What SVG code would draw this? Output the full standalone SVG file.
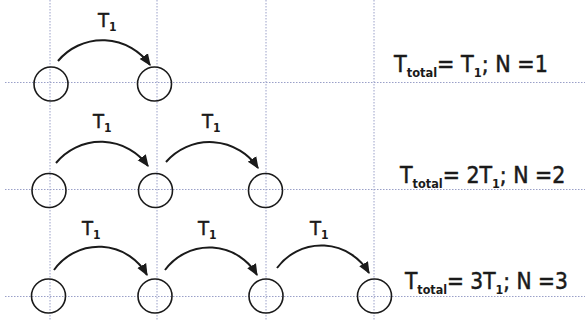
<svg xmlns="http://www.w3.org/2000/svg" width="585" height="320" viewBox="0 0 585 320">
<defs>
<style>
.grid{stroke:#9aa0c8;stroke-width:1;stroke-dasharray:1.5,1.5;fill:none}
.node{fill:none;stroke:#1a1a1a;stroke-width:1.6}
.arc{fill:none;stroke:#1a1a1a;stroke-width:2;marker-end:url(#ah)}
.lbl{font-family:"Liberation Sans Narrow","DejaVu Sans Condensed","Liberation Sans",sans-serif;fill:#1a1a1a;stroke:#1a1a1a;stroke-width:0.5}
.t1{font-size:20px}
.sub{font-size:12px;font-weight:bold;stroke-width:0}
.eq{font-size:23.5px}
.esub{font-size:13px;font-weight:bold;stroke-width:0}
</style>
<marker id="ah" viewBox="0 0 10 10" refX="9" refY="5" markerWidth="6" markerHeight="6" orient="auto" markerUnits="strokeWidth">
<path d="M0,0.8 L10,5 L0,9.2 z" fill="#1a1a1a"/>
</marker>
</defs>
<rect width="585" height="320" fill="#fff"/>
<g id="grid">
<line class="grid" x1="50" y1="0" x2="50" y2="320"/>
<line class="grid" x1="157" y1="0" x2="157" y2="320"/>
<line class="grid" x1="266" y1="0" x2="266" y2="320"/>
<line class="grid" x1="374" y1="0" x2="374" y2="320"/>
<line class="grid" x1="5" y1="82.5" x2="585" y2="82.5"/>
<line class="grid" x1="5" y1="189.5" x2="585" y2="189.5"/>
<line class="grid" x1="5" y1="296.5" x2="585" y2="296.5"/>
</g>
<g id="connectors">
<path class="arc" d="M58,61 A58,58 0 0 1 150,65"/>
<path class="arc" d="M56,163 A58,58 0 0 1 148,166"/>
<path class="arc" d="M166,162 A58,58 0 0 1 258,168"/>
<path class="arc" d="M54,270 A55,55 0 0 1 147,275"/>
<path class="arc" d="M165,270 A55,55 0 0 1 257,275"/>
<path class="arc" d="M277,268 A55,55 0 0 1 369,273"/>
</g>
<g id="n1a"><circle class="node" cx="51" cy="84" r="17"/></g>
<g id="n1b"><circle class="node" cx="154.5" cy="84" r="17"/></g>
<g id="n2a"><circle class="node" cx="49" cy="190.5" r="17"/></g>
<g id="n2b"><circle class="node" cx="155.5" cy="190.5" r="17"/></g>
<g id="n2c"><circle class="node" cx="265.5" cy="190.5" r="17"/></g>
<g id="n3a"><circle class="node" cx="48.5" cy="296" r="17"/></g>
<g id="n3b"><circle class="node" cx="155" cy="296" r="17"/></g>
<g id="n3c"><circle class="node" cx="266" cy="296" r="17"/></g>
<g id="n3d"><circle class="node" cx="374.5" cy="296" r="17"/></g>
<g id="labels">
<text class="lbl t1" x="98" y="27">T<tspan class="sub" dy="4">1</tspan></text>
<text class="lbl t1" x="93" y="128">T<tspan class="sub" dy="4">1</tspan></text>
<text class="lbl t1" x="202" y="128">T<tspan class="sub" dy="4">1</tspan></text>
<text class="lbl t1" x="82" y="235">T<tspan class="sub" dy="4">1</tspan></text>
<text class="lbl t1" x="198" y="235">T<tspan class="sub" dy="4">1</tspan></text>
<text class="lbl t1" x="310" y="235">T<tspan class="sub" dy="4">1</tspan></text>
</g>
<g id="eq1"><text class="lbl eq" transform="translate(394,72) scale(0.98,1)">T<tspan class="esub" dy="5">total</tspan><tspan dy="-5">= T</tspan><tspan class="esub" dy="5">1</tspan><tspan dy="-5">; N =1</tspan></text></g>
<g id="eq2"><text class="lbl eq" transform="translate(400,182.5) scale(0.97,1)">T<tspan class="esub" dy="5">total</tspan><tspan dy="-5">= 2T</tspan><tspan class="esub" dy="5">1</tspan><tspan dy="-5">; N =2</tspan></text></g>
<g id="eq3"><text class="lbl eq" transform="translate(405,288.5) scale(0.955,1)">T<tspan class="esub" dy="5">total</tspan><tspan dy="-5">= 3T</tspan><tspan class="esub" dy="5">1</tspan><tspan dy="-5">; N =3</tspan></text></g>
</svg>
